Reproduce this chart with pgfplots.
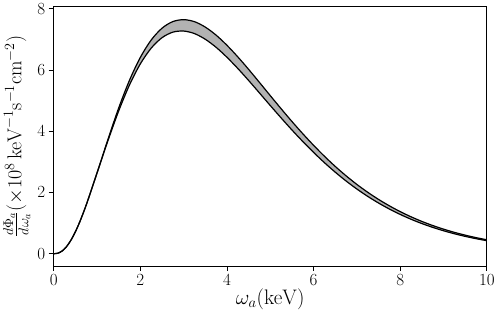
\RequirePackage{fix-cm}
\documentclass[border=0pt]{standalone}
\usepackage{amsmath}
\usepackage{pgfplots}
\pgfplotsset{compat=1.18}
\usepgfplotslibrary{fillbetween}

% upper / lower flux bands (x10^8 keV^-1 s^-1 cm^-2)
\pgfplotstableread{
E     up     lo
0     0      0
0.1   0.0184 0.0184
0.2   0.0944 0.0944
0.3   0.2375 0.2375
0.4   0.4462 0.4462
0.5   0.7145 0.7145
0.6   1.0338 1.0338
0.75  1.5876 1.5876
1     2.634  2.634
1.25  3.723  3.681
1.5   4.757  4.661
1.75  5.666  5.512
2     6.412  6.200
2.25  6.979  6.714
2.5   7.366  7.056
2.75  7.583  7.237
3     7.646  7.274
3.25  7.580  7.191
3.5   7.403  7.005
3.75  7.140  6.742
4     6.809  6.417
4.25  6.431  6.052
4.5   6.023  5.660
4.75  5.596  5.252
5     5.164  4.841
5.25  4.737  4.437
5.5   4.320  4.043
5.75  3.921  3.667
6     3.541  3.310
6.25  3.184  2.975
6.5   2.852  2.664
6.75  2.545  2.376
7     2.263  2.113
7.25  2.007  1.873
7.5   1.774  1.656
7.75  1.564  1.460
8     1.375  1.284
8.25  1.206  1.126
8.5   1.055  0.9853
8.75  0.9216 0.8610
9     0.8030 0.7503
9.25  0.6984 0.6528
9.5   0.6064 0.5671
9.75  0.5257 0.4918
10    0.4549 0.4257
}\flux

\begin{document}
\begin{tikzpicture}
\begin{axis}[
  width=431bp, height=258bp, scale only axis,
  xmin=0, xmax=10, ymin=-0.4, ymax=8.07,
  xtick={0,2,4,6,8,10}, ytick={0,2,4,6,8},
  tick pos=left, tick align=outside,
  major tick length=5bp,
  axis line style={line width=0.8bp},
  tick style={black, line width=0.8bp},
  ticklabel style={font=\fontsize{17}{17}\selectfont},
  xlabel={$\omega_a(\mathrm{keV})$},
  xlabel style={font=\fontsize{21}{21}\selectfont, yshift=4bp},
  ylabel={$\frac{d\Phi_a}{d\omega_a}(\times10^8\,\mathrm{keV}^{-1}\mathrm{s}^{-1}\mathrm{cm}^{-2})$},
  ylabel style={font=\fontsize{20}{20}\selectfont, yshift=0bp},
]
\addplot[name path=up, black, line width=1.2bp, smooth] table[x=E, y=up] {\flux};
\addplot[name path=lo, black, line width=1.2bp, smooth] table[x=E, y=lo] {\flux};
\addplot[fill=gray!60, draw=none] fill between[of=up and lo];
\end{axis}
\end{tikzpicture}
\end{document}
